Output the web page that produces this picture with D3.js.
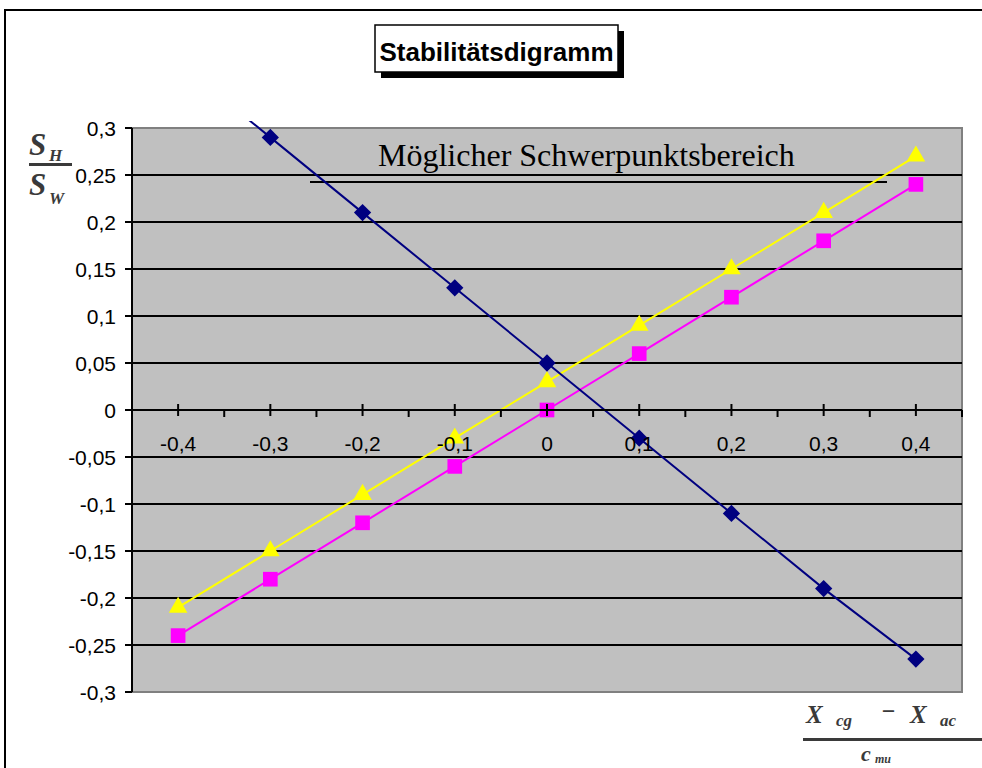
<!DOCTYPE html>
<html>
<head>
<meta charset="utf-8">
<script src="https://cdn.jsdelivr.net/npm/d3@7"></script>
<style>
  html, body { margin: 0; padding: 0; background: #ffffff; }
  svg { display: block; }
</style>
</head>
<body>
<svg id="chart" width="982" height="768"></svg>
<script>
// Category positions along the x axis (relative CG position)
const categories = ["-0,4", "-0,3", "-0,2", "-0,1", "0", "0,1", "0,2", "0,3", "0,4"];
// Series values S_H / S_W for each category
const seriesNavy    = [0.37, 0.29, 0.21, 0.13, 0.05, -0.03, -0.11, -0.19, -0.265];
const seriesMagenta = [-0.24, -0.18, -0.12, -0.06, 0.0, 0.06, 0.12, 0.18, 0.24];
const seriesYellow  = [-0.21, -0.15, -0.09, -0.03, 0.03, 0.09, 0.15, 0.21, 0.27];
// Value axis ticks
const yTickValues = [-0.3, -0.25, -0.2, -0.15, -0.1, -0.05, 0, 0.05, 0.1, 0.15, 0.2, 0.25, 0.3];

const titleText = "Stabilitätsdigramm";
const noteText = "Möglicher Schwerpunktsbereich";

const svg = d3.select("#chart");
const plot = { left: 132, right: 962, top: 128, bottom: 692 };

const x = d3.scaleBand().domain(categories).range([plot.left, plot.right]).padding(0);
const xc = c => x(c) + x.bandwidth() / 2;
const y = d3.scaleLinear().domain([-0.3, 0.3]).range([plot.bottom, plot.top]);

const locale = d3.formatLocale({ decimal: ",", thousands: ".", grouping: [3], currency: ["", "€"], minus: "-" });
const fmt = locale.format("~g");

// outer chart frame
svg.append("rect")
  .attr("x", 5).attr("y", 10).attr("width", 990).attr("height", 800)
  .attr("fill", "#ffffff").attr("stroke", "#000").attr("stroke-width", 2);

// plot area
svg.append("rect")
  .attr("x", plot.left).attr("y", plot.top)
  .attr("width", plot.right - plot.left).attr("height", plot.bottom - plot.top)
  .attr("fill", "#c0c0c0").attr("stroke", "#808080").attr("stroke-width", 2);

// horizontal gridlines
svg.append("g").selectAll("line")
  .data(yTickValues.filter(v => Math.abs(v) < 0.29))
  .join("line")
  .attr("x1", plot.left).attr("x2", plot.right)
  .attr("y1", d => y(d)).attr("y2", d => y(d))
  .attr("stroke", "#000").attr("stroke-width", 2);

// annotation for the permissible CG range
svg.append("line")
  .attr("x1", 310).attr("x2", 887).attr("y1", 182).attr("y2", 182)
  .attr("stroke", "#000").attr("stroke-width", 2);
svg.append("text")
  .attr("x", 378).attr("y", 166)
  .attr("font-family", "'Liberation Serif', 'Times New Roman', serif")
  .attr("font-size", 32).attr("fill", "#000")
  .text(noteText);

// series lines and markers
svg.append("clipPath").attr("id", "plotclip").append("rect")
  .attr("x", plot.left).attr("y", plot.top - 7)
  .attr("width", plot.right - plot.left).attr("height", plot.bottom - plot.top + 7);

const line = d3.line().x(d => xc(d.c)).y(d => y(d.v));
const toPts = vals => categories.map((c, i) => ({ c, v: vals[i] }));

const series = [
  { vals: seriesYellow, color: "#ffff00", symbol: d3.symbolTriangle, size: 150 },
  { vals: seriesMagenta, color: "#ff00ff", symbol: d3.symbolSquare, size: 215 },
  { vals: seriesNavy, color: "#000080", symbol: d3.symbolDiamond2 || d3.symbolDiamond, size: 190 }
];

const seriesG = svg.append("g").attr("clip-path", "url(#plotclip)");
series.forEach(s => {
  const pts = toPts(s.vals);
  seriesG.append("path")
    .attr("d", line(pts))
    .attr("fill", "none").attr("stroke", s.color).attr("stroke-width", 2);
  seriesG.selectAll(null)
    .data(pts.filter(p => p.v <= 0.3 && p.v >= -0.3))
    .join("path")
    .attr("transform", p => `translate(${xc(p.c)},${y(p.v)})`)
    .attr("d", d3.symbol().type(s.symbol).size(s.size))
    .attr("fill", s.color);
});

// value axis
const axisFont = "'Liberation Sans', Arial, sans-serif";
const yAxis = svg.append("g");
yAxis.append("line")
  .attr("x1", plot.left).attr("x2", plot.left)
  .attr("y1", plot.top).attr("y2", plot.bottom)
  .attr("stroke", "#000").attr("stroke-width", 2);
yAxis.selectAll("line.tick").data(yTickValues).join("line")
  .attr("class", "tick")
  .attr("x1", plot.left - 7).attr("x2", plot.left)
  .attr("y1", d => y(d)).attr("y2", d => y(d))
  .attr("stroke", "#000").attr("stroke-width", 2);
yAxis.selectAll("text").data(yTickValues).join("text")
  .attr("x", 116).attr("y", d => y(d) + 7.5)
  .attr("text-anchor", "end")
  .attr("font-family", axisFont).attr("font-size", 21).attr("fill", "#000")
  .text(d => fmt(d));

// category axis crossing at zero
const xAxis = svg.append("g");
xAxis.append("line")
  .attr("x1", plot.left).attr("x2", plot.right)
  .attr("y1", y(0)).attr("y2", y(0))
  .attr("stroke", "#000").attr("stroke-width", 2);
const bounds = categories.map(c => x(c)).concat([plot.right]);
xAxis.selectAll("line.minor").data(bounds).join("line")
  .attr("class", "minor")
  .attr("x1", d => d).attr("x2", d => d)
  .attr("y1", y(0)).attr("y2", y(0) + 7)
  .attr("stroke", "#000").attr("stroke-width", 2);
xAxis.selectAll("line.major").data(categories).join("line")
  .attr("class", "major")
  .attr("x1", d => xc(d)).attr("x2", d => xc(d))
  .attr("y1", y(0) - 6).attr("y2", y(0) + 6)
  .attr("stroke", "#000").attr("stroke-width", 2);
xAxis.selectAll("text").data(categories).join("text")
  .attr("x", d => xc(d)).attr("y", y(0) + 41)
  .attr("text-anchor", "middle")
  .attr("font-family", axisFont).attr("font-size", 21).attr("fill", "#000")
  .text(d => d);

// chart title with drop shadow
const tb = { x: 375, y: 25, w: 243, h: 47 };
svg.append("rect").attr("x", tb.x + 6).attr("y", tb.y + 6).attr("width", tb.w).attr("height", tb.h).attr("fill", "#000");
svg.append("rect").attr("x", tb.x).attr("y", tb.y).attr("width", tb.w).attr("height", tb.h)
  .attr("fill", "#fff").attr("stroke", "#000").attr("stroke-width", 1.5);
svg.append("text")
  .attr("x", tb.x + tb.w / 2).attr("y", 61)
  .attr("text-anchor", "middle")
  .attr("font-family", axisFont).attr("font-weight", "bold").attr("font-size", 26)
  .text(titleText);

// axis titles drawn as fractions
const mathFont = "'Liberation Serif', 'Times New Roman', serif";
const fracColor = "#3a3a3a";
function mtext(xp, yp, txt, size) {
  return svg.append("text").attr("x", xp).attr("y", yp)
    .attr("font-family", mathFont).attr("font-style", "italic").attr("font-weight", "bold")
    .attr("font-size", size).attr("fill", fracColor).text(txt);
}
// S_H / S_W
mtext(29, 155, "S", 31);
mtext(49, 161, "H", 17);
svg.append("line").attr("x1", 29).attr("x2", 72).attr("y1", 164.5).attr("y2", 164.5)
  .attr("stroke", fracColor).attr("stroke-width", 3);
mtext(29, 195, "S", 31);
mtext(49, 204, "W", 17);
// (X_cg - X_ac) / c_mu
mtext(806, 723, "X", 25);
mtext(836, 726, "cg", 17);
mtext(881, 719, "−", 24);
mtext(910, 723, "X", 25);
mtext(940, 726, "ac", 17);
svg.append("line").attr("x1", 803).attr("x2", 982).attr("y1", 739.5).attr("y2", 739.5)
  .attr("stroke", fracColor).attr("stroke-width", 3);
mtext(861, 761, "c", 22);
mtext(875, 763, "mu", 12);
</script>
</body>
</html>
